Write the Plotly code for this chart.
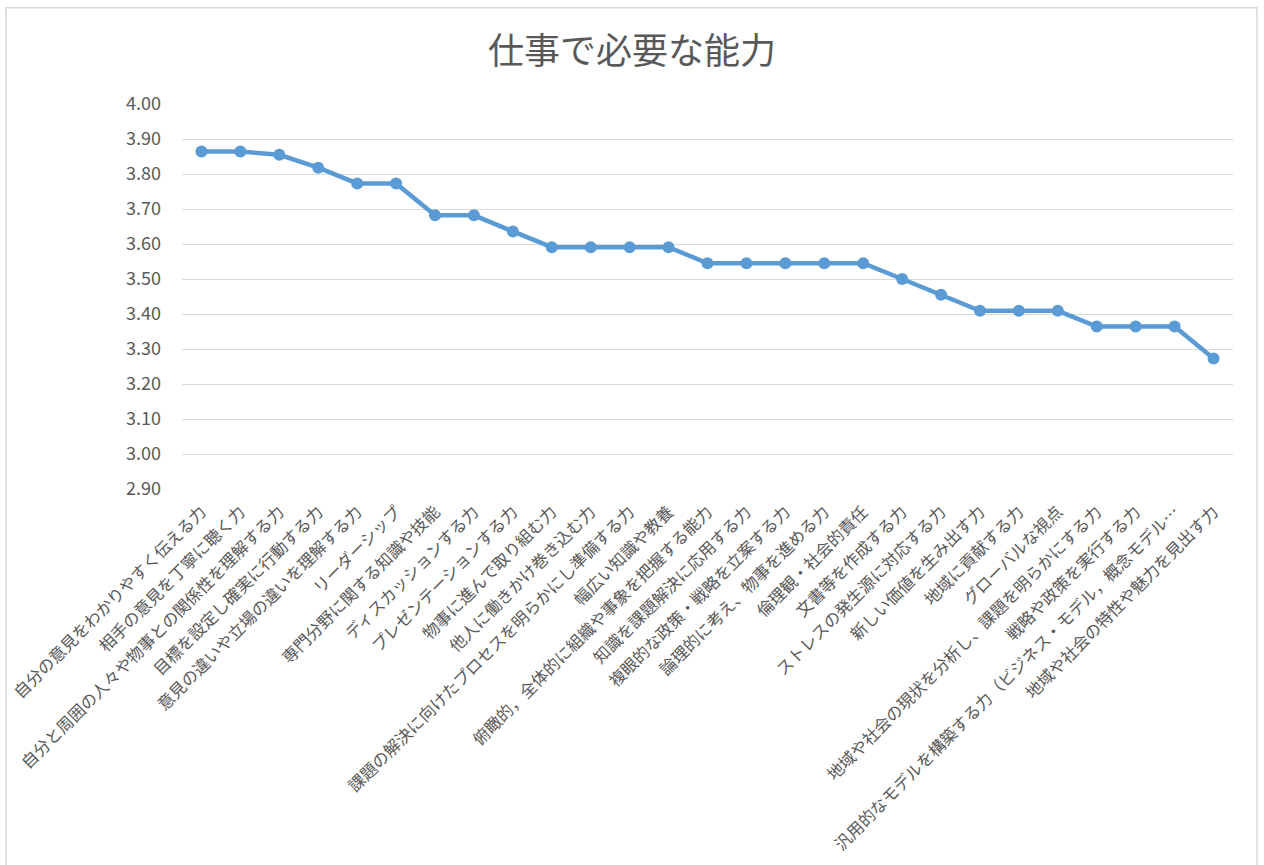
import plotly.graph_objects as go

# Abilities required at work, with their mean scores
abilities = [
    "自分の意見をわかりやすく伝える力",
    "相手の意見を丁寧に聴く力",
    "自分と周囲の人々や物事との関係性を理解する力",
    "目標を設定し確実に行動する力",
    "意見の違いや立場の違いを理解する力",
    "リーダーシップ",
    "専門分野に関する知識や技能",
    "ディスカッションする力",
    "プレゼンテーションする力",
    "物事に進んで取り組む力",
    "他人に働きかけ巻き込む力",
    "課題の解決に向けたプロセスを明らかにし準備する力",
    "幅広い知識や教養",
    "俯瞰的，全体的に組織や事象を把握する能力",
    "知識を課題解決に応用する力",
    "複眼的な政策・戦略を立案する力",
    "論理的に考え、物事を進める力",
    "倫理観・社会的責任",
    "文書等を作成する力",
    "ストレスの発生源に対応する力",
    "新しい価値を生み出す力",
    "地域に貢献する力",
    "グローバルな視点",
    "地域や社会の現状を分析し、課題を明らかにする力",
    "戦略や政策を実行する力",
    "汎用的なモデルを構築する力（ビジネス・モデル，概念モデル…",
    "地域や社会の特性や魅力を見出す力",
]
scores = [
    3.864, 3.864, 3.855, 3.818, 3.773, 3.773, 3.682, 3.682, 3.636,
    3.591, 3.591, 3.591, 3.591, 3.545, 3.545, 3.545, 3.545, 3.545,
    3.500, 3.455, 3.409, 3.409, 3.409, 3.364, 3.364, 3.364, 3.273,
]
y_ticks = [round(2.9 + 0.1 * i, 2) for i in range(12)]

TEXT = "#595959"
FONT = "Noto Sans CJK JP"

fig = go.Figure(
    go.Scatter(
        x=list(range(len(abilities))),
        y=scores,
        mode="lines+markers",
        line=dict(color="#5B9BD5", width=4.5),
        marker=dict(color="#5B9BD5", size=12),
        hoverinfo="skip",
    )
)

fig.update_layout(
    width=1264,
    height=865,
    margin=dict(l=182, r=31, t=104, b=376),
    paper_bgcolor="white",
    plot_bgcolor="white",
    showlegend=False,
    font=dict(family=FONT, color=TEXT, size=16.5),
    title=dict(
        text="仕事で必要な能力",
        x=0.5,
        xanchor="center",
        y=0.941,
        yanchor="middle",
        font=dict(family=FONT, size=36, color=TEXT),
    ),
    xaxis=dict(
        tickmode="array",
        tickvals=list(range(len(abilities))),
        ticktext=abilities,
        tickangle=-45,
        range=[-0.5, len(abilities) - 0.5],
        showgrid=False,
        zeroline=False,
        showline=False,
        ticks="",
        ticklabelstandoff=9,
        tickfont=dict(family=FONT, size=16.5, color=TEXT),
        automargin=False,
    ),
    yaxis=dict(
        range=[2.9, 4.0],
        tickmode="array",
        tickvals=y_ticks,
        ticktext=[f"{v:.2f}" for v in y_ticks],
        showgrid=True,
        gridcolor="#D9D9D9",
        gridwidth=1.3,
        zeroline=False,
        showline=False,
        ticks="",
        ticklabelstandoff=20,
        tickfont=dict(family=FONT, size=18, color=TEXT),
        automargin=False,
    ),
    shapes=[
        dict(
            type="rect",
            xref="paper",
            yref="paper",
            x0=-0.1675,
            x1=1.0228,
            y0=-1.02,
            y1=1.25,
            line=dict(color="#D9D9D9", width=1.5),
            fillcolor="rgba(0,0,0,0)",
            layer="below",
        )
    ],
)

fig.write_html("out.html")
